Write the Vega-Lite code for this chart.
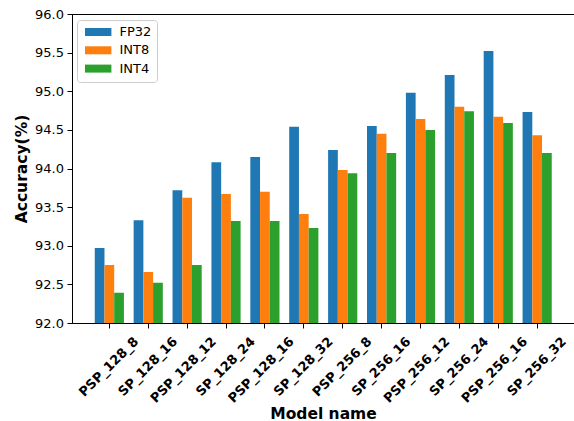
{
  "$schema": "https://vega.github.io/schema/vega-lite/v6.json",
  "width": 502.5,
  "height": 309,
  "autosize": {"type": "none"},
  "padding": {"left": 72, "top": 14, "right": 0, "bottom": 98},
  "background": "white",
  "data": {
    "values": [
      {"model": "PSP_128_8", "precision": "FP32", "accuracy": 92.97},
      {"model": "PSP_128_8", "precision": "INT8", "accuracy": 92.75},
      {"model": "PSP_128_8", "precision": "INT4", "accuracy": 92.39},
      {"model": "SP_128_16", "precision": "FP32", "accuracy": 93.33},
      {"model": "SP_128_16", "precision": "INT8", "accuracy": 92.66},
      {"model": "SP_128_16", "precision": "INT4", "accuracy": 92.52},
      {"model": "PSP_128_12", "precision": "FP32", "accuracy": 93.72},
      {"model": "PSP_128_12", "precision": "INT8", "accuracy": 93.62},
      {"model": "PSP_128_12", "precision": "INT4", "accuracy": 92.75},
      {"model": "SP_128_24", "precision": "FP32", "accuracy": 94.08},
      {"model": "SP_128_24", "precision": "INT8", "accuracy": 93.67},
      {"model": "SP_128_24", "precision": "INT4", "accuracy": 93.32},
      {"model": "PSP_128_16", "precision": "FP32", "accuracy": 94.15},
      {"model": "PSP_128_16", "precision": "INT8", "accuracy": 93.70},
      {"model": "PSP_128_16", "precision": "INT4", "accuracy": 93.32},
      {"model": "SP_128_32", "precision": "FP32", "accuracy": 94.54},
      {"model": "SP_128_32", "precision": "INT8", "accuracy": 93.41},
      {"model": "SP_128_32", "precision": "INT4", "accuracy": 93.23},
      {"model": "PSP_256_8", "precision": "FP32", "accuracy": 94.24},
      {"model": "PSP_256_8", "precision": "INT8", "accuracy": 93.98},
      {"model": "PSP_256_8", "precision": "INT4", "accuracy": 93.94},
      {"model": "SP_256_16", "precision": "FP32", "accuracy": 94.55},
      {"model": "SP_256_16", "precision": "INT8", "accuracy": 94.45},
      {"model": "SP_256_16", "precision": "INT4", "accuracy": 94.20},
      {"model": "PSP_256_12", "precision": "FP32", "accuracy": 94.98},
      {"model": "PSP_256_12", "precision": "INT8", "accuracy": 94.64},
      {"model": "PSP_256_12", "precision": "INT4", "accuracy": 94.50},
      {"model": "SP_256_24", "precision": "FP32", "accuracy": 95.21},
      {"model": "SP_256_24", "precision": "INT8", "accuracy": 94.80},
      {"model": "SP_256_24", "precision": "INT4", "accuracy": 94.74},
      {"model": "PSP_256_16", "precision": "FP32", "accuracy": 95.52},
      {"model": "PSP_256_16", "precision": "INT8", "accuracy": 94.67},
      {"model": "PSP_256_16", "precision": "INT4", "accuracy": 94.59},
      {"model": "SP_256_32", "precision": "FP32", "accuracy": 94.73},
      {"model": "SP_256_32", "precision": "INT8", "accuracy": 94.43},
      {"model": "SP_256_32", "precision": "INT4", "accuracy": 94.20}
    ]
  },
  "mark": {"type": "bar", "clip": true},
  "encoding": {
    "x": {
      "field": "model",
      "type": "nominal",
      "sort": null,
      "scale": {"paddingInner": 0.25, "paddingOuter": 0.585},
      "axis": {
        "title": "Model name",
        "titleX": 251,
        "titleY": 95,
        "titleAlign": "center",
        "titleBaseline": "alphabetic",
        "labelAngle": -45,
        "labelAlign": "right",
        "labelBaseline": "middle",
        "labelFontWeight": "bold",
        "labelPadding": 11,
        "labelOffset": 27,
        "labelOverlap": false,
        "labelBound": false,
        "labelFlush": false
      }
    },
    "xOffset": {
      "field": "precision",
      "type": "nominal",
      "sort": ["FP32", "INT8", "INT4"],
      "scale": {"paddingInner": 0, "paddingOuter": 0}
    },
    "y": {
      "field": "accuracy",
      "type": "quantitative",
      "scale": {"domain": [92, 96], "zero": false, "nice": false},
      "axis": {
        "title": "Accuracy(%)",
        "values": [92, 92.5, 93, 93.5, 94, 94.5, 95, 95.5, 96],
        "format": ".1f",
        "grid": false,
        "labelPadding": 3.5,
        "titleAngle": -90,
        "titleX": -46,
        "titleY": 154.5,
        "titleAlign": "center",
        "titleBaseline": "alphabetic"
      }
    },
    "color": {
      "field": "precision",
      "type": "nominal",
      "sort": ["FP32", "INT8", "INT4"],
      "scale": {"domain": ["FP32", "INT8", "INT4"], "range": ["#1f77b4", "#ff7f0e", "#2ca02c"]},
      "legend": {
        "title": null,
        "orient": "none",
        "legendX": 5,
        "legendY": 6,
        "symbolType": "M-1,-1H5.6V1H-1Z",
        "symbolSize": 64,
        "symbolStrokeWidth": 0,
        "symbolOpacity": 1,
        "labelOffset": 24,
        "labelFontSize": 13,
        "labelFont": "DejaVu Sans",
        "labelColor": "black",
        "rowPadding": 4.3,
        "padding": 5.5,
        "fillColor": "rgba(255,255,255,0.8)",
        "strokeColor": "#cccccc",
        "cornerRadius": 3
      }
    }
  },
  "config": {
    "font": "DejaVu Sans",
    "view": {"stroke": "black", "strokeWidth": 1},
    "axis": {
      "labelFont": "DejaVu Sans",
      "labelFontSize": 13,
      "labelColor": "black",
      "titleFont": "DejaVu Sans",
      "titleFontSize": 15.5,
      "titleFontWeight": "bold",
      "titleColor": "black",
      "domainColor": "black",
      "domainWidth": 1,
      "tickColor": "black",
      "tickWidth": 1,
      "tickSize": 5
    },
    "legend": {"symbolStrokeWidth": 0}
  }
}
